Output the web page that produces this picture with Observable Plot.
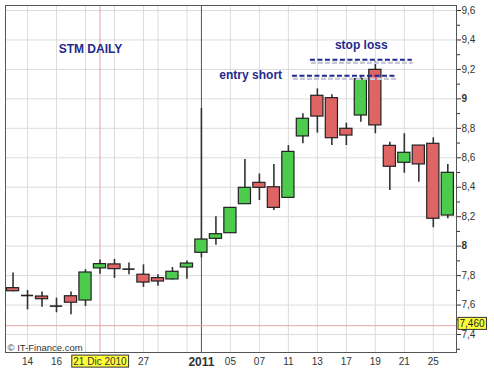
<!DOCTYPE html>
<html>
<head>
<meta charset="utf-8">
<script src="https://cdn.jsdelivr.net/npm/d3@7"></script>
<script src="https://cdn.jsdelivr.net/npm/@observablehq/plot@0.6"></script>
<style>
  html, body { margin: 0; padding: 0; background: #fff; }
  #chart svg { display: block; }
</style>
</head>
<body>
<div id="chart"></div>
<script>
// ---- data ----
const days  = ["13 Dic","14 Dic","15 Dic","16 Dic","17 Dic","20 Dic","21 Dic","22 Dic","23 Dic","27 Dic","28 Dic","29 Dic","30 Dic",
               "03 Gen","04 Gen","05 Gen","06 Gen","07 Gen","10 Gen","11 Gen","12 Gen","13 Gen","14 Gen","17 Gen","18 Gen","19 Gen","20 Gen","21 Gen","24 Gen","25 Gen","26 Gen"];
const open  = [7.715,7.665,7.658,7.593,7.660,7.631,7.849,7.876,7.844,7.806,7.783,7.774,7.855,
               7.955,8.050,8.088,8.285,8.430,8.400,8.328,8.745,9.021,9.005,8.797,8.887,9.197,8.681,8.566,8.683,8.695,8.208];
const high  = [7.817,7.699,7.688,7.647,7.688,7.840,7.906,7.910,7.885,7.873,7.806,7.855,7.900,
               8.935,8.200,8.260,8.588,8.490,8.554,8.683,8.899,9.068,9.028,8.835,9.159,9.254,8.706,8.763,8.683,8.736,8.554];
const low   = [7.690,7.568,7.586,7.548,7.535,7.590,7.810,7.780,7.806,7.720,7.728,7.770,7.776,
               7.921,8.007,8.088,8.285,8.310,8.242,8.328,8.695,8.767,8.683,8.683,8.842,8.763,8.378,8.495,8.434,8.125,8.186];
const close = [7.694,7.665,7.640,7.593,7.616,7.821,7.878,7.844,7.844,7.753,7.760,7.826,7.882,
               8.045,8.081,8.260,8.396,8.396,8.260,8.640,8.865,8.880,8.733,8.751,9.134,8.820,8.539,8.634,8.555,8.186,8.498];

const xTickIndex  = [1,3,6,9,13,15,17,19,21,23,25,27,29];
const xTickLabels = ["14","16","21 Dic 2010","27","2011","05","07","11","13","17","19","21","25"];
const gridIndex   = [1,3,5,7,9,10,12,15,17,19,21,23,25,27,29];
const cursorIndex = 6;    // 21 Dic 2010
const yearIndex   = 13;   // 2011
const yTicks      = [7.4,7.6,7.8,8.0,8.2,8.4,8.6,8.8,9.0,9.2,9.4,9.6];
const yMinorTicks = [7.3,7.5,7.7,7.9,8.1,8.3,8.5,8.7,8.9,9.1,9.3,9.5];
const lastPrice   = 7.46;
const lastLabel   = "7,460";

const levelNames = ["entry short","stop loss"];
const levelY     = [9.157, 9.265];
const levelFrom  = [19.28, 20.52];
const levelTo    = [26.52, 27.55];

const noteText = ["STM DAILY","entry short","stop loss"];
const noteX    = [5.34, 16.4, 24.03];
const noteY    = [9.335, 9.159, 9.362];

// ---- tables built from arrays ----
const candles = days.map((d, i) => ({i, day: d, open: open[i], high: high[i], low: low[i], close: close[i]}));
const bodies = candles.filter(d => d.open !== d.close);
const dojis  = candles.filter(d => d.open === d.close);
const levels = levelNames.map((n, k) => ({name: n, y: levelY[k], x1: levelFrom[k], x2: levelTo[k]}));
const notes  = noteText.map((t, k) => ({text: t, x: noteX[k], y: noteY[k]}));
const labelOf = new Map(xTickIndex.map((v, k) => [v, xTickLabels[k]]));

const navy = "#1f2a8e";
const fmt = v => d3.format(".1f")(v).replace(/\.0$/, "").replace(".", ",");

const chart = Plot.plot({
  width: 494, height: 369,
  marginLeft: 5, marginRight: 38, marginTop: 5, marginBottom: 17,
  style: {fontFamily: "'Liberation Sans', Arial, sans-serif", background: "#fff", color: "#333"},
  x: {domain: [-0.52, 30.6]},
  y: {domain: [7.278, 9.634]},
  marks: [
    Plot.gridY(yTicks, {stroke: "#dcdcdc", strokeOpacity: 1}),
    Plot.gridX(gridIndex, {stroke: "#dcdcdc", strokeOpacity: 1}),
    Plot.ruleX([cursorIndex], {stroke: "#e3a3a3", strokeWidth: 1}),
    Plot.ruleX([yearIndex], {stroke: "#555", strokeWidth: 1}),
    Plot.ruleY([lastPrice], {stroke: "#e6a6a6", strokeWidth: 1}),
    // wicks
    Plot.ruleX(candles, {x: "i", y1: "low", y2: "high", stroke: "#333", strokeWidth: 1.6}),
    // bodies
    Plot.rect(bodies, {
      x1: d => d.i - 0.42, x2: d => d.i + 0.42,
      y1: "open", y2: "close",
      fill: d => d.close > d.open ? "#4dcb4d" : "#df6464",
      stroke: "#222", strokeWidth: 1.2
    }),
    Plot.ruleY(dojis, {x1: d => d.i - 0.42, x2: d => d.i + 0.42, y: "open", stroke: "#222", strokeWidth: 1.6}),
    // dashed levels (shadow + line)
    Plot.ruleY(levels, {x1: "x1", x2: "x2", y: "y", stroke: "#c8c8d8", strokeWidth: 2.5, strokeDasharray: "5,2", dy: 3, dx: 1}),
    Plot.ruleY(levels, {x1: "x1", x2: "x2", y: "y", stroke: navy, strokeWidth: 2, strokeDasharray: "5,2.5"}),
    // annotations
    Plot.text(notes, {x: "x", y: "y", text: "text", fill: navy, fontSize: 12, fontWeight: "bold"}),
    Plot.text(["© IT-Finance.com"], {frameAnchor: "bottom-left", dx: 2, dy: -2, fill: "#333", fontSize: 9.5, textAnchor: "start", lineAnchor: "bottom"}),
    // axes
    Plot.axisY(yMinorTicks, {anchor: "right", tickSize: 3, tickFormat: () => "", stroke: "#333"}),
    Plot.axisY(yTicks, {anchor: "right", tickSize: 4, tickPadding: 1, tickFormat: fmt, fontSize: 10, fill: "#333", stroke: "#333"}),
    Plot.axisX(xTickIndex, {anchor: "bottom", tickSize: 0, tickPadding: 5, tickFormat: v => labelOf.get(v), fontSize: 10, fill: "#333"}),
    Plot.text([lastLabel], {frameAnchor: "right", y: [lastPrice], dx: 3, dy: -2, textAnchor: "start", fontSize: 10, fill: "#222", ariaLabel: "last-price"}),
    Plot.frame({stroke: "#555", strokeWidth: 1})
  ]
});

document.getElementById("chart").appendChild(chart);

// styling touches on the rendered text
const svg = chart;
svg.querySelectorAll("text").forEach(t => {
  const s = t.textContent;
  if (s === "9" || s === "8") t.setAttribute("font-weight", "bold");
  if (s === "2011") { t.setAttribute("font-weight", "bold"); t.setAttribute("font-size", "12"); }
});
function boxBehind(t) {
  const b = t.getBBox();
  const r = document.createElementNS("http://www.w3.org/2000/svg", "rect");
  r.setAttribute("x", b.x - 1.5); r.setAttribute("y", b.y - 0.5);
  r.setAttribute("width", b.width + 3); r.setAttribute("height", b.height + 1);
  r.setAttribute("fill", "#ffff3a"); r.setAttribute("stroke", "#333"); r.setAttribute("stroke-width", 1);
  const tr = t.getAttribute("transform");
  if (tr) r.setAttribute("transform", tr);
  t.parentNode.insertBefore(r, t);
}
svg.querySelectorAll("text").forEach(t => {
  if (t.textContent === "21 Dic 2010" || t.textContent === lastLabel) boxBehind(t);
});
</script>
</body>
</html>
